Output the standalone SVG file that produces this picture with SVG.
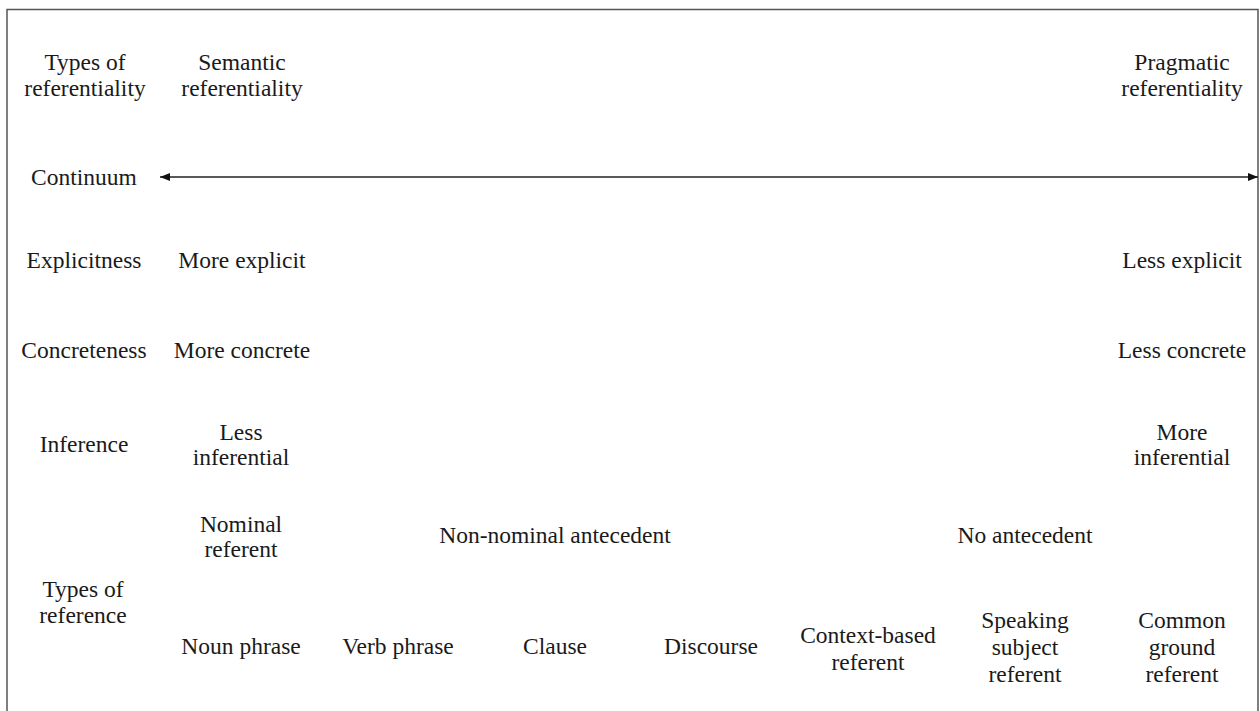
<svg xmlns="http://www.w3.org/2000/svg" width="1260" height="711" viewBox="0 0 1260 711">
<style>
text{font-family:"Liberation Serif","Times New Roman",serif;font-size:23.5px;fill:#1a1a1a;text-anchor:middle}
.frame{fill:none;stroke:#555;stroke-width:1.5}
.conn{stroke:#222;stroke-width:1.3;fill:none}
</style>
<defs>
<marker id="ah" viewBox="0 0 10 8" refX="10" refY="4" markerWidth="10" markerHeight="8" markerUnits="userSpaceOnUse" orient="auto-start-reverse">
<path d="M0,0 L10,4 L0,8 z" fill="#111"/>
</marker>
</defs>
<rect width="1260" height="711" fill="#fff"/>
<path class="frame" d="M7,711 V9.5 H1258 V711"/>
<g id="connectors">
<line class="conn" x1="160" y1="177" x2="1258" y2="177" marker-start="url(#ah)" marker-end="url(#ah)"/>
</g>
<g id="types-of-referentiality"><text x="85" y="70">Types of</text><text x="85" y="96">referentiality</text></g>
<g id="semantic"><text x="242" y="70">Semantic</text><text x="242" y="96">referentiality</text></g>
<g id="pragmatic"><text x="1182" y="70">Pragmatic</text><text x="1182" y="96">referentiality</text></g>
<g id="continuum"><text x="84" y="185">Continuum</text></g>
<g id="explicitness"><text x="84" y="268">Explicitness</text></g>
<g id="more-explicit"><text x="242" y="268">More explicit</text></g>
<g id="less-explicit"><text x="1182" y="268">Less explicit</text></g>
<g id="concreteness"><text x="84" y="358">Concreteness</text></g>
<g id="more-concrete"><text x="242" y="358">More concrete</text></g>
<g id="less-concrete"><text x="1182" y="358">Less concrete</text></g>
<g id="inference"><text x="84" y="452">Inference</text></g>
<g id="less-inferential"><text x="241" y="440">Less</text><text x="241" y="465">inferential</text></g>
<g id="more-inferential"><text x="1182" y="440">More</text><text x="1182" y="465">inferential</text></g>
<g id="nominal-referent"><text x="241" y="532">Nominal</text><text x="241" y="557">referent</text></g>
<g id="non-nominal"><text x="555" y="543">Non-nominal antecedent</text></g>
<g id="no-antecedent"><text x="1025" y="543">No antecedent</text></g>
<g id="types-of-reference"><text x="83" y="597">Types of</text><text x="83" y="623">reference</text></g>
<g id="noun-phrase"><text x="241" y="654">Noun phrase</text></g>
<g id="verb-phrase"><text x="398" y="654">Verb phrase</text></g>
<g id="clause"><text x="555" y="654">Clause</text></g>
<g id="discourse"><text x="711" y="654">Discourse</text></g>
<g id="context-based"><text x="868" y="643">Context-based</text><text x="868" y="670">referent</text></g>
<g id="speaking-subject"><text x="1025" y="628">Speaking</text><text x="1025" y="655">subject</text><text x="1025" y="682">referent</text></g>
<g id="common-ground"><text x="1182" y="628">Common</text><text x="1182" y="655">ground</text><text x="1182" y="682">referent</text></g>
</svg>
